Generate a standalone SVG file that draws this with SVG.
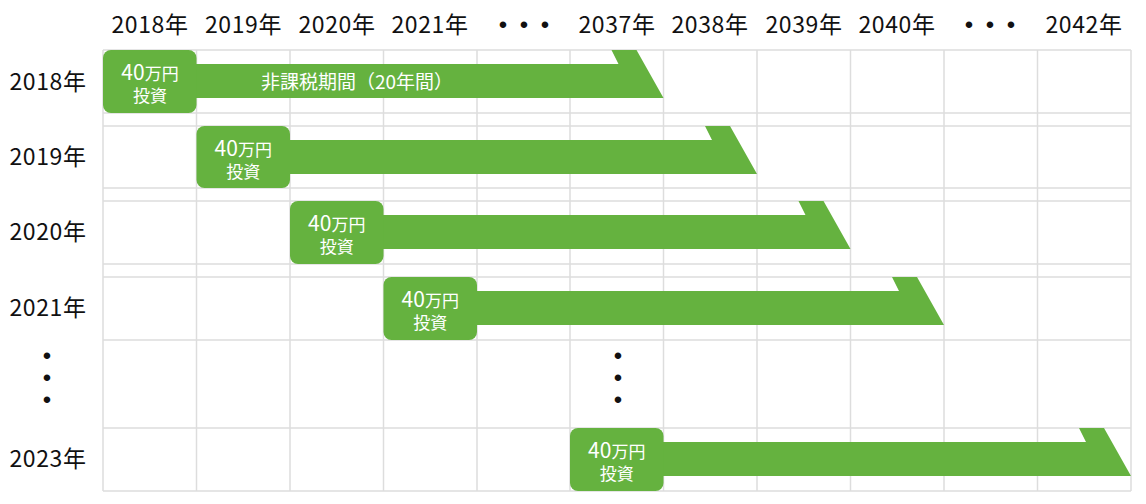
<svg xmlns="http://www.w3.org/2000/svg" width="1146" height="504" viewBox="0 0 1146 504">
<style>
.grid line{stroke:#dddddd;stroke-width:1.5}
.lbl{font-family:"Noto Sans CJK JP","Noto Sans",sans-serif;font-size:23px;letter-spacing:0.6px;fill:#111;text-anchor:middle}
.box{fill:#65b23f}
.bt{font-family:"Noto Sans CJK JP","Noto Sans",sans-serif;fill:#fff;text-anchor:middle;font-size:17px}
.big{font-size:21px}
.dot{font-family:"Liberation Sans",sans-serif;font-size:24px;fill:#111;text-anchor:middle}
</style>
<rect width="1146" height="504" fill="#fff"/>
<g class="grid">
<line x1="103" y1="50" x2="103" y2="491"/><line x1="196.5" y1="50" x2="196.5" y2="491"/><line x1="290" y1="50" x2="290" y2="491"/><line x1="383.5" y1="50" x2="383.5" y2="491"/><line x1="477" y1="50" x2="477" y2="491"/><line x1="570" y1="50" x2="570" y2="491"/><line x1="663.5" y1="50" x2="663.5" y2="491"/><line x1="757" y1="50" x2="757" y2="491"/><line x1="850.5" y1="50" x2="850.5" y2="491"/><line x1="944" y1="50" x2="944" y2="491"/><line x1="1037.5" y1="50" x2="1037.5" y2="491"/><line x1="1131" y1="50" x2="1131" y2="491"/>
<line x1="103" y1="50" x2="1131" y2="50"/><line x1="103" y1="113" x2="1131" y2="113"/><line x1="103" y1="126" x2="1131" y2="126"/><line x1="103" y1="188" x2="1131" y2="188"/><line x1="103" y1="201" x2="1131" y2="201"/><line x1="103" y1="264" x2="1131" y2="264"/><line x1="103" y1="277" x2="1131" y2="277"/><line x1="103" y1="340" x2="1131" y2="340"/><line x1="103" y1="428" x2="1131" y2="428"/><line x1="103" y1="491" x2="1131" y2="491"/>
</g>
<g id="header">
<text class="lbl" x="150" y="33">2018年</text>
<text class="lbl" x="243.5" y="33">2019年</text>
<text class="lbl" x="337" y="33">2020年</text>
<text class="lbl" x="430" y="33">2021年</text>
<text class="dot" x="503 524 545" y="33">•••</text>
<text class="lbl" x="617" y="33">2037年</text>
<text class="lbl" x="710" y="33">2038年</text>
<text class="lbl" x="804" y="33">2039年</text>
<text class="lbl" x="897" y="33">2040年</text>
<text class="dot" x="969 990 1011" y="33">•••</text>
<text class="lbl" x="1084" y="33">2042年</text>
</g>
<g id="rowlabels">
<text class="lbl" x="48" y="90">2018年</text>
<text class="lbl" x="48" y="165">2019年</text>
<text class="lbl" x="48" y="240">2020年</text>
<text class="lbl" x="48" y="316">2021年</text>
<text class="dot" x="47 47 47" y="364 386 408">•••</text>
<text class="lbl" x="48" y="467">2023年</text>
</g>
<g id="row2018">
<polygon class="box" points="190,64 618.5,64 611.5,50 636.5,50 663.5,98 190,98"/>
<rect class="box" x="103" y="50" width="93.5" height="63" rx="8"/>
<text class="bt" x="150" y="80"><tspan class="big">40</tspan>万円</text>
<text class="bt" x="150" y="102">投資</text>
<text class="bt" x="357" y="89" style="font-size:19px">非課税期間（20年間）</text>
</g>
<g id="row2019">
<polygon class="box" points="284,140 712,140 705,126 730,126 757,174 284,174"/>
<rect class="box" x="196.5" y="126" width="93.5" height="62" rx="8"/>
<text class="bt" x="243.25" y="156"><tspan class="big">40</tspan>万円</text>
<text class="bt" x="243.25" y="178">投資</text>
</g>
<g id="row2020">
<polygon class="box" points="377,215 805.5,215 798.5,201 823.5,201 850.5,249 377,249"/>
<rect class="box" x="290" y="201" width="93.5" height="63" rx="8"/>
<text class="bt" x="336.75" y="231"><tspan class="big">40</tspan>万円</text>
<text class="bt" x="336.75" y="253">投資</text>
</g>
<g id="row2021">
<polygon class="box" points="470,291 899,291 892,277 917,277 944,325 470,325"/>
<rect class="box" x="383.5" y="277" width="93.5" height="63" rx="8"/>
<text class="bt" x="430.25" y="307"><tspan class="big">40</tspan>万円</text>
<text class="bt" x="430.25" y="329">投資</text>
</g>
<g id="rowdots">
<text class="dot" x="618 618 618" y="364 386 408">•••</text>
</g>
<g id="row2023">
<polygon class="box" points="657,442 1086,442 1079,428 1104,428 1131,476 657,476"/>
<rect class="box" x="570" y="428" width="93.5" height="63" rx="8"/>
<text class="bt" x="616.75" y="458"><tspan class="big">40</tspan>万円</text>
<text class="bt" x="616.75" y="480">投資</text>
</g>
<g id="connectors"></g>
</svg>
